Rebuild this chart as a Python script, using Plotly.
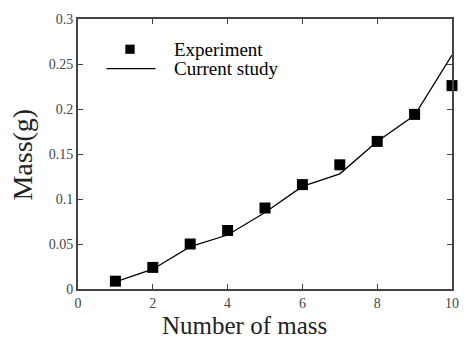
import plotly.graph_objects as go

x_vals = [1, 2, 3, 4, 5, 6, 7, 8, 9, 10]
experiment = [0.0087, 0.024, 0.050, 0.065, 0.090, 0.116, 0.138, 0.164, 0.194, 0.226]
current_study = [0.008, 0.022, 0.047, 0.060, 0.085, 0.114, 0.128, 0.164, 0.193, 0.260]
x_ticks = [0, 2, 4, 6, 8, 10]
y_ticks = [0, 0.05, 0.1, 0.15, 0.2, 0.25, 0.3]
y_tick_labels = ["0", "0.05", "0.1", "0.15", "0.2", "0.25", "0.3"]
legend_labels = ["Experiment", "Current study"]
x_title = "Number of mass"
y_title = "Mass(g)"

FONT = "Liberation Serif, Times New Roman, serif"

fig = go.Figure()
fig.add_trace(go.Scatter(
    x=x_vals, y=experiment, mode="markers", name=legend_labels[0],
    marker=dict(symbol="square", size=11, color="black"), cliponaxis=False,
))
fig.add_trace(go.Scatter(
    x=x_vals, y=current_study, mode="lines", name=legend_labels[1],
    line=dict(color="black", width=1.3),
))

# Manual legend (plot-area fractions)
fig.add_shape(type="rect", xref="paper", yref="paper",
              x0=0.139 - 0.0125, x1=0.139 + 0.0125, y0=0.888 - 0.017, y1=0.888 + 0.017,
              fillcolor="black", line=dict(width=0))
fig.add_shape(type="line", xref="paper", yref="paper",
              x0=0.076, x1=0.207, y0=0.816, y1=0.816,
              line=dict(color="black", width=1.3))
for label, yy in zip(legend_labels, [0.888, 0.816]):
    fig.add_annotation(text=label, xref="paper", yref="paper", x=0.252, y=yy,
                       xanchor="left", yanchor="middle", showarrow=False,
                       font=dict(family=FONT, size=19, color="black"))

# Axis titles
fig.add_annotation(text=x_title, xref="paper", yref="paper", x=0.444, y=0.0, yshift=-52,
                   xanchor="center", yanchor="bottom", showarrow=False,
                   font=dict(family=FONT, size=25, color="#222"))
fig.add_annotation(text=y_title, xref="paper", yref="paper", x=-0.1496, y=0.498,
                   xanchor="center", yanchor="middle", showarrow=False, textangle=-90,
                   font=dict(family=FONT, size=28, color="#222"))

axis_common = dict(
    showline=True, linecolor="#444", linewidth=2, mirror="ticks",
    ticks="inside", ticklen=5, tickcolor="#444", tickwidth=1,
    showgrid=False, zeroline=False,
    tickfont=dict(family=FONT, size=14, color="#444"),
)

fig.update_layout(
    width=471, height=341,
    margin=dict(l=78, r=12, t=15, b=52),
    paper_bgcolor="white", plot_bgcolor="white",
    font=dict(family=FONT, color="black"),
    showlegend=False,
    xaxis=dict(range=[0, 10], tickvals=x_ticks, **axis_common),
    yaxis=dict(range=[0, 0.3], tickvals=y_ticks, ticktext=y_tick_labels, **axis_common),
)

fig.write_html("out.html")
